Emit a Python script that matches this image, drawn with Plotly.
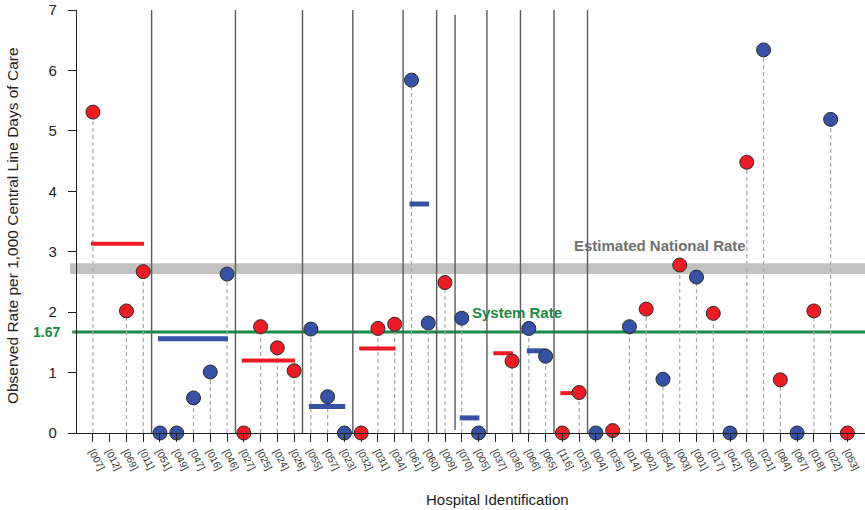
import plotly.graph_objects as go

hospitals = ["[007]","[012]","[069]","[011]","[051]","[049]","[047]","[016]","[046]",
             "[027]","[025]","[024]","[026]","[055]","[057]","[023]","[032]","[031]",
             "[034]","[061]","[060]","[009]","[070]","[005]","[037]","[036]","[066]",
             "[065]","[116]","[015]","[004]","[035]","[014]","[002]","[054]","[003]",
             "[001]","[017]","[042]","[030]","[021]","[084]","[067]","[018]","[022]","[053]"]
rates = [5.31, None, 2.02, 2.67, 0.0, 0.0, 0.58, 1.01, 2.63,
         0.0, 1.76, 1.41, 1.03, 1.72, 0.60, 0.0, 0.0, 1.73,
         1.80, 5.84, 1.82, 2.49, 1.90, 0.0, None, 1.19, 1.73,
         1.27, 0.0, 0.67, 0.0, 0.04, 1.76, 2.05, 0.89, 2.78,
         2.58, 1.98, 0.0, 4.48, 6.34, 0.88, 0.0, 2.02, 5.19, 0.0]
colors = ["r","r","r","r","b","b","b","b","b",
          "r","r","r","r","b","b","b","r","r",
          "r","b","b","r","b","b","r","r","b",
          "b","r","r","b","r","b","r","b","r",
          "b","r","b","r","b","r","b","r","b","r"]
# group averages: (first index, last index, value, colour)
group_start = [0, 4, 9, 13, 16, 19, 22, 24, 26, 28]
group_end = [3, 8, 12, 15, 18, 20, 23, 25, 27, 29]
group_rate = [3.13, 1.56, 1.20, 0.44, 1.40, 3.79, 0.25, 1.32, 1.36, 0.66]
group_color = ["r", "b", "r", "b", "r", "b", "b", "r", "b", "r"]
separators = [3.5, 8.5, 12.5, 15.5, 18.5, 20.5, 21.6, 23.5, 25.5, 27.5, 29.5]
separator_top = [7, 7, 7, 7, 7, 7, 6.92, 7, 7, 7, 7]
separator_bottom = [0, 0, 0, 0, 0, 0, 0.05, 0, 0, 0, 0]
system_rate = 1.67
national_low, national_high = 2.63, 2.81

RED = "#ec1c24"
BLUE = "#3751a5"
cmap = {"r": RED, "b": BLUE}
FONT = "Arial, Liberation Sans, sans-serif"

x = list(range(len(hospitals)))
fig = go.Figure()

shapes = []
for sx, st, sb in zip(separators, separator_top, separator_bottom):
    shapes.append(dict(type="line", xref="x", yref="y", x0=sx, x1=sx, y0=sb, y1=st,
                       line=dict(color="#5a5a5a", width=1.4), layer="below"))
shapes.append(dict(type="rect", xref="paper", yref="y", x0=-0.009, x1=1.0,
                   y0=national_low, y1=national_high, fillcolor="#c2c2c2",
                   line=dict(width=0), layer="below"))
shapes.append(dict(type="line", xref="paper", yref="y", x0=-0.006, x1=1.0,
                   y0=system_rate, y1=system_rate,
                   line=dict(color="#1b8a45", width=3), layer="below"))

# stems
sx_, sy_ = [], []
for i, v in enumerate(rates):
    if v is not None and v > 0.05:
        sx_ += [i, i, None]
        sy_ += [0, v, None]
fig.add_trace(go.Scatter(x=sx_, y=sy_, mode="lines", hoverinfo="skip",
                         line=dict(color="#a8a8a8", width=1.2, dash="4px,3px"),
                         showlegend=False))

# group average segments
for s, e, v, c in zip(group_start, group_end, group_rate, group_color):
    fig.add_trace(go.Scatter(x=[s - 0.12, e + 0.05], y=[v, v], mode="lines",
                             line=dict(color=cmap[c], width=4 if c == "r" else 5),
                             showlegend=False, hoverinfo="skip"))

# dots
for c in ["r", "b"]:
    xs = [i for i, v in enumerate(rates) if v is not None and colors[i] == c]
    ys = [rates[i] for i in xs]
    fig.add_trace(go.Scatter(x=xs, y=ys, mode="markers", cliponaxis=False,
                             marker=dict(color=cmap[c], size=14,
                                         line=dict(color="#2b2b2b", width=1)),
                             showlegend=False))

annotations = [
    dict(text="<b>1.67</b>", xref="paper", yref="y", x=-0.019, y=system_rate,
         xanchor="right", yanchor="middle", showarrow=False,
         font=dict(family=FONT, size=14, color="#1b8a45")),
    dict(text="<b>System Rate</b>", xref="x", yref="y", x=25.3, y=1.99,
         xanchor="center", yanchor="middle", showarrow=False,
         font=dict(family=FONT, size=15, color="#1b8a45")),
    dict(text="<b>Estimated National Rate</b>", xref="x", yref="y", x=33.8, y=3.11,
         xanchor="center", yanchor="middle", showarrow=False,
         font=dict(family=FONT, size=15, color="#707070")),
    dict(text="Observed Rate per 1,000 Central Line Days of Care", xref="paper",
         yref="paper", x=-0.082, y=0.49, textangle=-90, xanchor="center",
         yanchor="middle", showarrow=False,
         font=dict(family=FONT, size=15.5, color="#222")),
    dict(text="Hospital Identification", xref="paper", yref="paper",
         x=(497 - 77) / 788, y=-0.158, xanchor="center", yanchor="middle",
         showarrow=False, font=dict(family=FONT, size=15, color="#222")),
]

fig.update_layout(
    width=865, height=510,
    margin=dict(l=77, r=0, t=10, b=77),
    paper_bgcolor="white", plot_bgcolor="white",
    shapes=shapes, annotations=annotations,
    xaxis=dict(range=[-0.95, 46.05], tickmode="array", tickvals=x, ticktext=hospitals,
               tickangle=62, ticks="outside", ticklen=8, tickcolor="#222",
               showline=True, linecolor="#222", linewidth=1.2, showgrid=False,
               zeroline=False, automargin=False, ticklabeloverflow="allow",
               tickfont=dict(family=FONT, size=10, color="#333")),
    yaxis=dict(range=[0, 7], tickvals=[0, 1, 2, 3, 4, 5, 6, 7], ticks="outside",
               ticklen=8, tickcolor="#222", showline=True, linecolor="#222",
               linewidth=1.2, showgrid=False, zeroline=False, ticklabelstandoff=8,
               automargin=False, ticklabeloverflow="allow",
               tickfont=dict(family=FONT, size=15, color="#222")),
)

# remove the browser's default 8px body margin so the figure fills the window
fig.write_html("out.html", config={"displayModeBar": False},
               post_script="document.body.style.margin='0px';document.body.style.overflow='hidden';")
